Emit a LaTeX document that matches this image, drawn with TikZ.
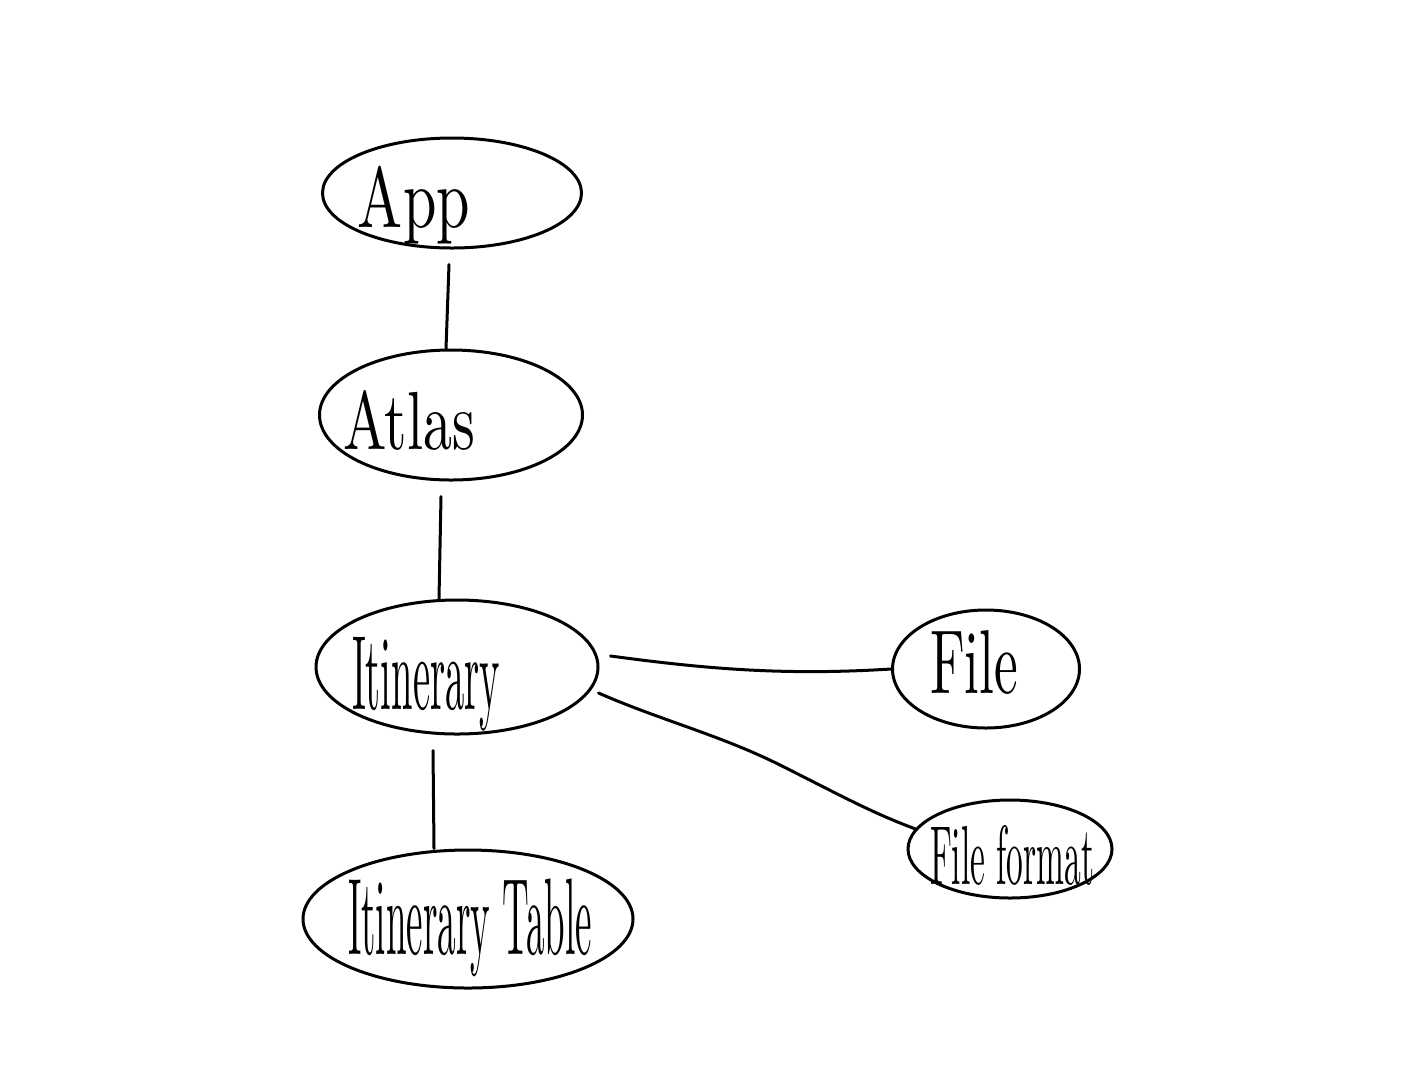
\documentclass[tikz,border=0pt]{standalone}
\usepackage{graphicx}
\usetikzlibrary{shapes.geometric}
% handwritten-looking label: squeeze the word into a given box
\newcommand{\squeezed}[3]{\resizebox*{#1}{#2}{#3}}
\begin{document}
\begin{tikzpicture}[x=0.5pt,y=-0.5pt,
  bubble/.style={draw,ellipse,line width=1.5pt,inner sep=0pt},
  word/.style={inner sep=0pt,anchor=center},
  link/.style={line width=1.5pt,line cap=round}]
\useasboundingbox (0,0) rectangle (1406,1077);

% bubbles
\node[bubble,minimum width=129.5pt,minimum height=55pt] (app) at (452,193) {};
\node[bubble,minimum width=131.5pt,minimum height=65pt] (atlas) at (451,415) {};
\node[bubble,minimum width=141pt,minimum height=67pt] (itin) at (457,667) {};
\node[bubble,minimum width=93.5pt,minimum height=59pt] (file) at (986,669) {};
\node[bubble,minimum width=102pt,minimum height=49pt] (fmt) at (1010,849) {};
\node[bubble,minimum width=165pt,minimum height=69pt] (table) at (468,919) {};

% labels
\node[word] (tApp) at (414,205) {\squeezed{56pt}{39pt}{App}};
\node[word] (tAtlas) at (409,420) {\squeezed{66pt}{30pt}{Atlas}};
\node[word] (tItin) at (426,684) {\squeezed{74pt}{47pt}{Itinerary}};
\node[word] (tFile) at (974,662) {\squeezed{44pt}{32pt}{File}};
\node[word] (tFmt) at (1012,855) {\squeezed{82pt}{30pt}{File format}};
\node[word] (tTable) at (470,928) {\squeezed{122pt}{49pt}{Itinerary Table}};

% connectors (they start a little away from the upper bubble)
\path (app.south) ++(-3,15) coordinate (a1);
\draw[link] (a1) -- (atlas.north -| 446,0);
\path (atlas.south) ++(-10,15) coordinate (b1);
\draw[link] (b1) -- (itin.north -| 439,0);
\path (itin.south) ++(-24,15) coordinate (c1);
\draw[link] (c1) -- (table.north -| 434,0);
\path (itin.east) ++(11,-11) coordinate (d1);
\draw[link] (d1) .. controls (700,668) and (780,676) .. (file.west);
\path (itin.east) ++(-1,26) coordinate (e1);
\draw[link] (e1) .. controls (660,720) and (720,735) .. (780,765)
  .. controls (840,795) and (870,812) .. (fmt.168);
\end{tikzpicture}
\end{document}
